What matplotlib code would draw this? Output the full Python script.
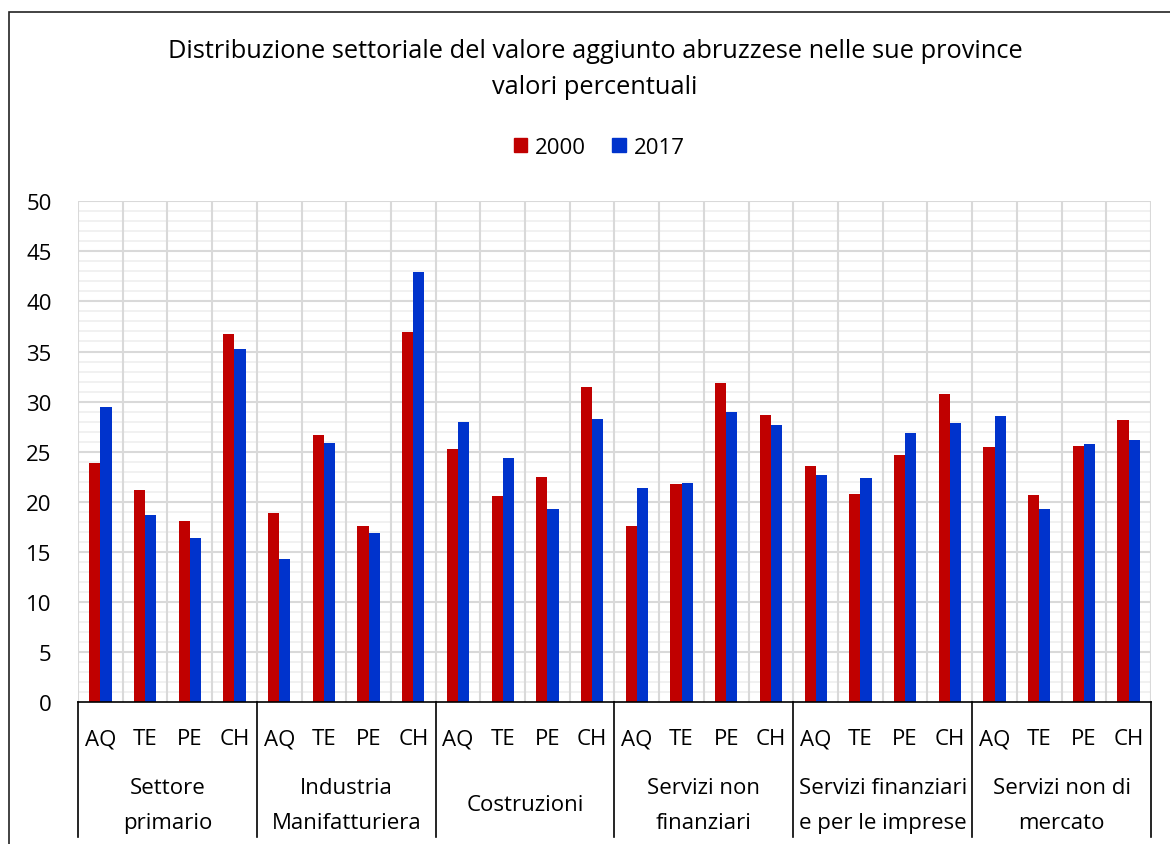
import matplotlib
matplotlib.use("Agg")
import matplotlib.pyplot as plt
import matplotlib.transforms as mtransforms
from matplotlib.patches import Rectangle, Patch
import numpy as np

plt.rcParams["font.family"] = ["Open Sans", "DejaVu Sans"]

# data
sectors = ["Settore\nprimario", "Industria\nManifatturiera", "Costruzioni",
           "Servizi non\nfinanziari", "Servizi finanziari\ne per le imprese",
           "Servizi non di\nmercato"]
provinces = ["AQ", "TE", "PE", "CH"]
years = ["2000", "2017"]
v2000 = [23.9, 21.2, 18.1, 36.7,
         18.9, 26.7, 17.6, 36.9,
         25.3, 20.6, 22.5, 31.5,
         17.6, 21.8, 31.9, 28.7,
         23.6, 20.8, 24.7, 30.8,
         25.5, 20.7, 25.6, 28.2]
v2017 = [29.5, 18.7, 16.4, 35.3,
         14.3, 25.9, 16.9, 42.9,
         28.0, 24.4, 19.3, 28.3,
         21.4, 21.9, 29.0, 27.7,
         22.7, 22.4, 26.9, 27.9,
         28.6, 19.3, 25.8, 26.2]
colors = ["#C00000", "#0033CC"]

W, H = 1170, 845
fig = plt.figure(figsize=(W / 100, H / 100), dpi=100)

# outer chart border (only top and left visible)
fig.patches.append(Rectangle((8.5 / W, -0.1), 1.2, (H - 12.5) / H + 0.1,
                             transform=fig.transFigure, fill=False,
                             edgecolor="#222222", linewidth=1.2))

x0, x1, y0, y1 = 78, 1151, 703, 202.3
ax = fig.add_axes([x0 / W, (H - y0) / H, (x1 - x0) / W, (y0 - y1) / H])

n = len(sectors) * len(provinces)
x = np.arange(n)
bw = 0.25
ax.bar(x - bw / 2, v2000, bw, color=colors[0], zorder=3)
ax.bar(x + bw / 2, v2017, bw, color=colors[1], zorder=3)

ax.set_xlim(-0.5, n - 0.5)
ax.set_ylim(0, 50)

# gridlines
for yy in range(1, 50):
    if yy % 5:
        ax.axhline(yy, color="#f0f0f0", lw=1.3, zorder=1)
for yy in range(5, 51, 5):
    ax.axhline(yy, color="#d9d9d9", lw=1.5, zorder=2)
for xx in np.arange(0.5, n, 1):
    ax.axvline(xx, color="#d9d9d9", lw=1.5, zorder=2)
ax.axvline(-0.5, color="#d9d9d9", lw=1.5, zorder=2)

for s in ["top", "right", "left"]:
    ax.spines[s].set_visible(False)
ax.spines["bottom"].set_color("black")
ax.spines["bottom"].set_linewidth(1.2)
ax.spines["bottom"].set_zorder(4)

ax.set_yticks(range(0, 51, 5))
ax.tick_params(axis="y", length=0, pad=19, labelsize=16)
ax.set_xticks(x)
ax.set_xticklabels(provinces * len(sectors))
ax.tick_params(axis="x", length=0, pad=19, labelsize=16)

# group separators and labels below the axis
trans = mtransforms.blended_transform_factory(ax.transData, ax.transAxes)
ax_h = y0 - y1
for k in range(len(sectors) + 1):
    xs = k * len(provinces) - 0.5
    ax.plot([xs, xs], [0, -(838 - y0) / ax_h], color="black", lw=1.2,
            transform=trans, clip_on=False)
for k, name in enumerate(sectors):
    xc = k * len(provinces) + 1.5
    ax.text(xc, -(806 - y0) / ax_h, name, transform=trans, ha="center",
            va="center", fontsize=16, linespacing=1.85)

# title
fig.text(595 / W, 1 - 52 / H, "Distribuzione settoriale del valore aggiunto abruzzese nelle sue province",
         ha="center", va="center", fontsize=18.3)
fig.text(595 / W, 1 - 87 / H, "valori percentuali", ha="center", va="center", fontsize=18.3)

# legend
handles = [Patch(color=c) for c in colors]
fig.legend(handles, years, loc="center", bbox_to_anchor=(599 / W, 1 - 148 / H),
           ncol=2, frameon=False, fontsize=16, handlelength=0.6, handleheight=0.6,
           handletextpad=0.35, columnspacing=1.2)

fig.savefig("out.png", dpi=100)
